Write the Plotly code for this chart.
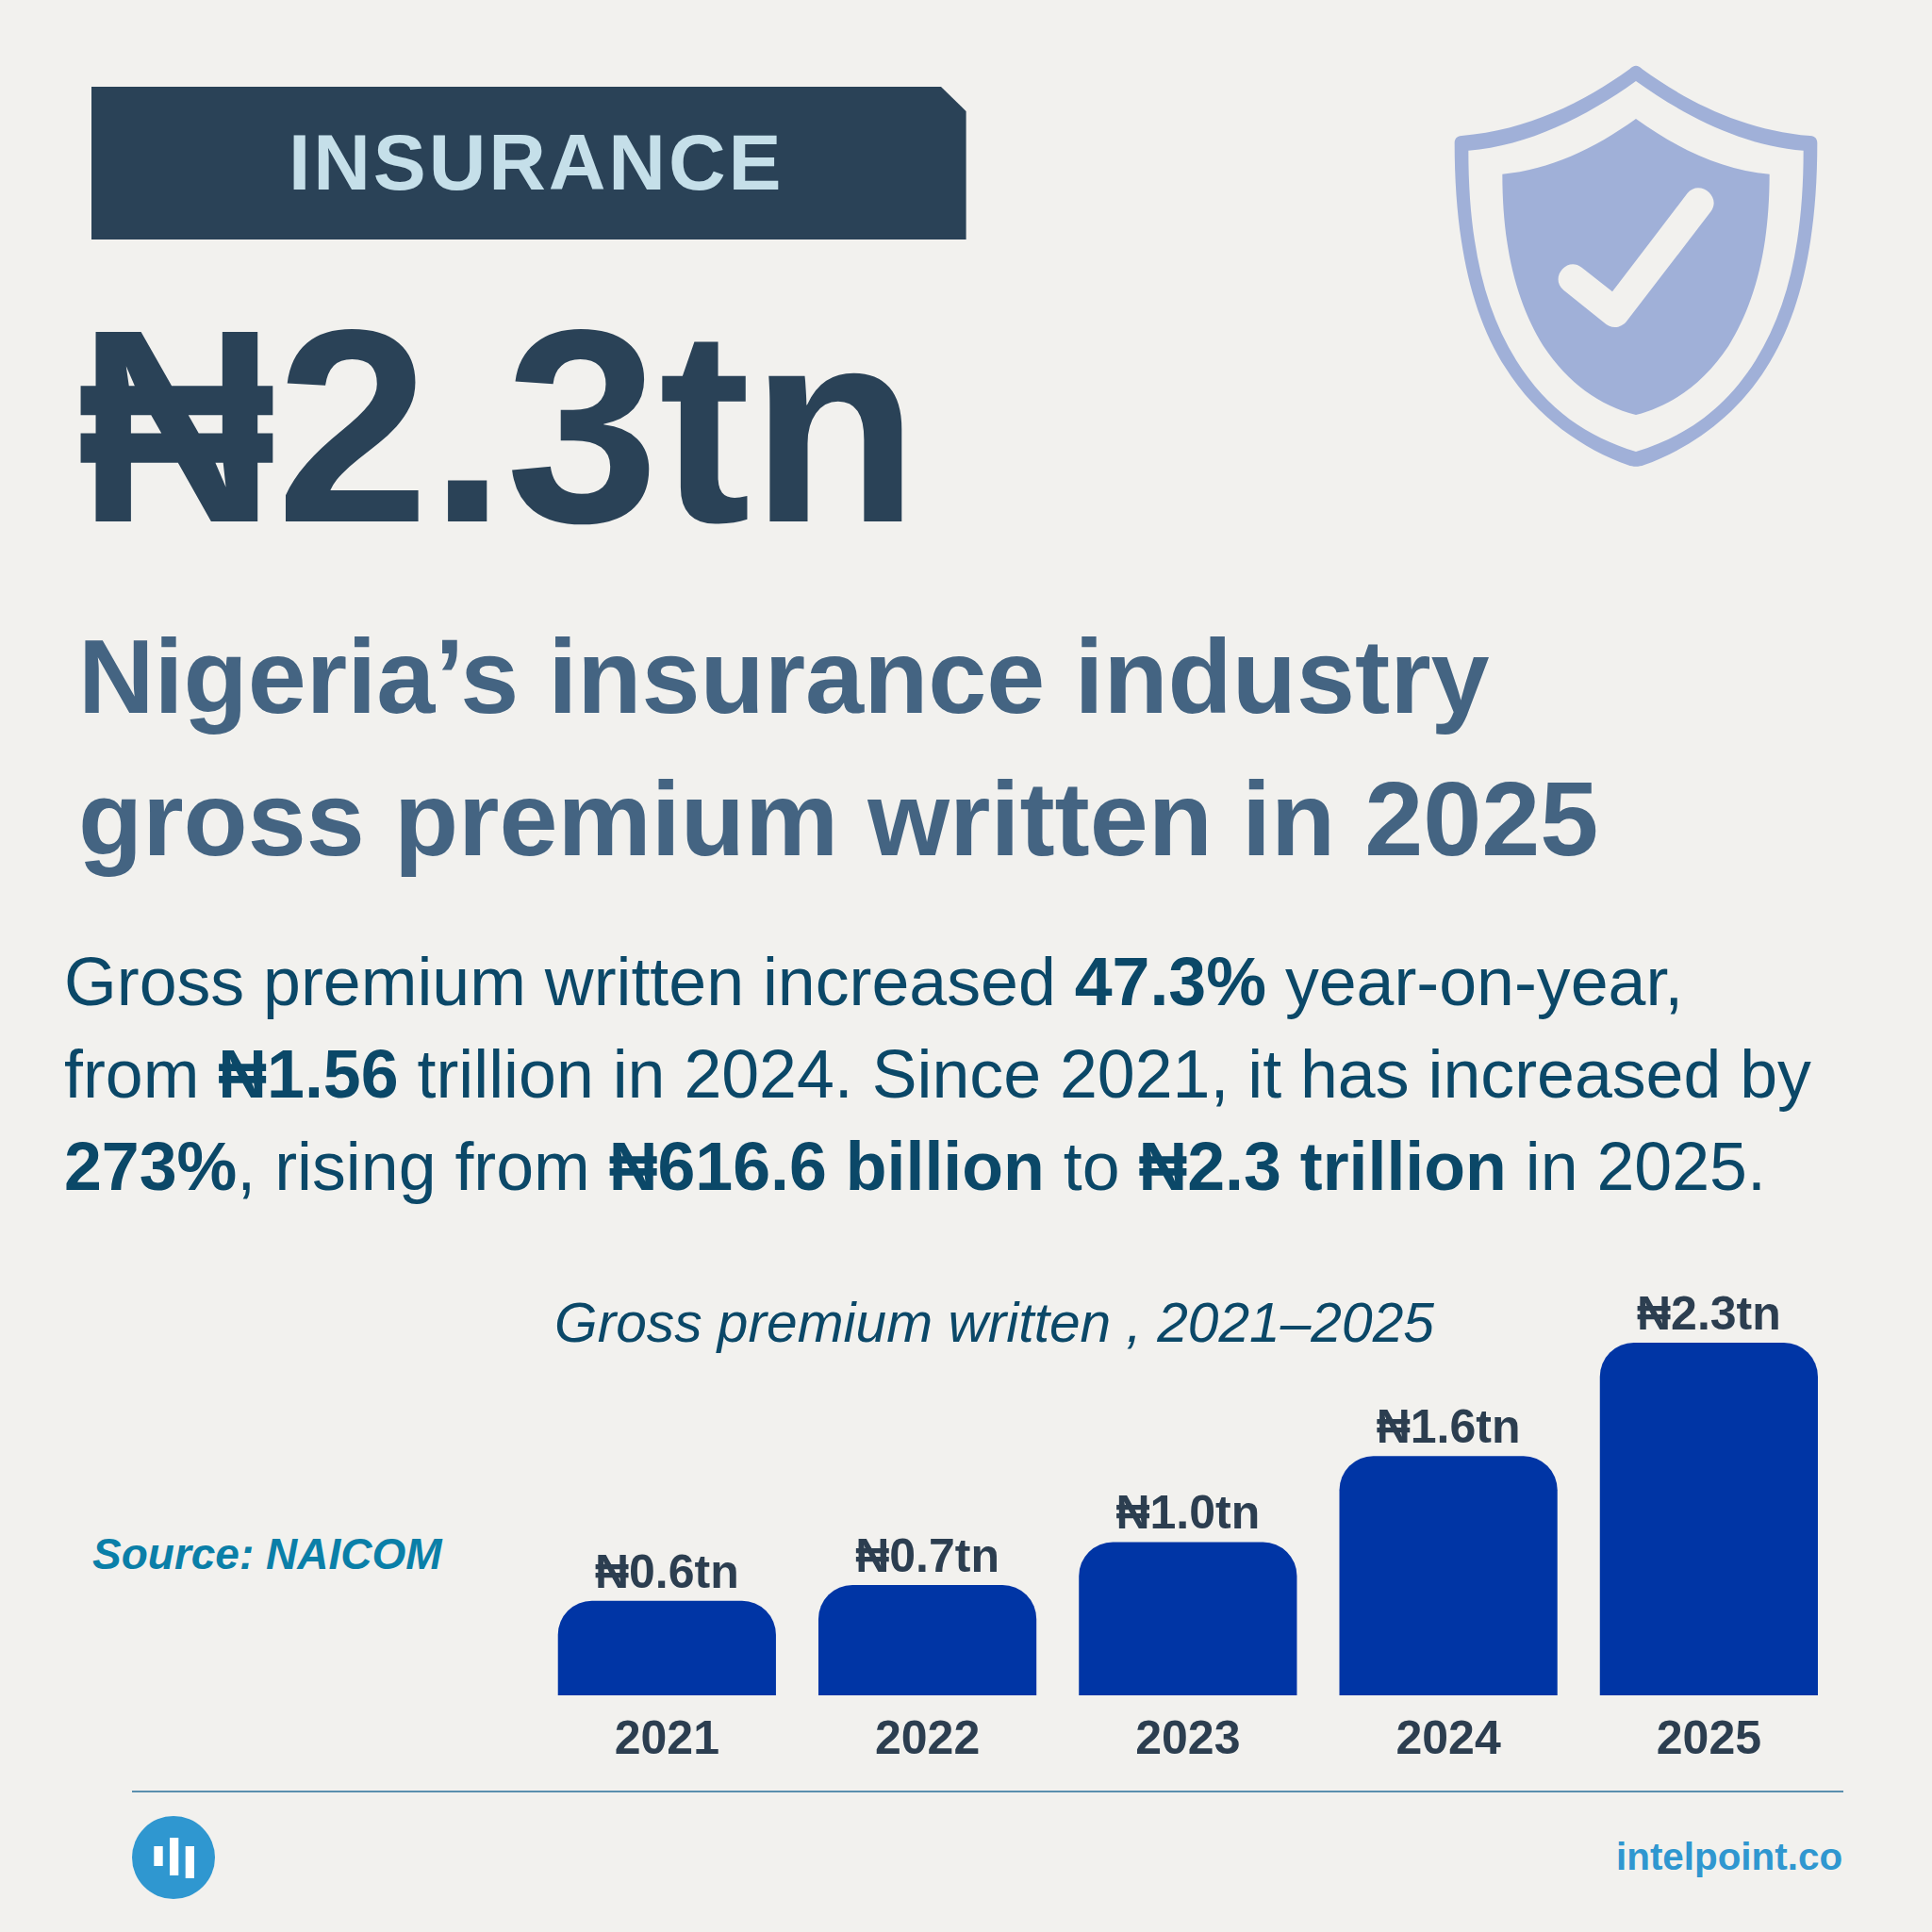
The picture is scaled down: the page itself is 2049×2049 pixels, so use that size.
import re
import plotly.graph_objects as go

FONT = "Liberation Sans"
SIZE = 2049

BG = "#f2f1ee"
NAVY = "#2a4257"
BAR_BLUE = "#0035a5"
LABEL_DARK = "#2c3e50"
BODY_BLUE = "#0b4868"
TITLE_BLUE = "#446482"
SOFT_BLUE = "#a0b0d8"
LOGO_BLUE = "#2f97d0"

years = ["2021", "2022", "2023", "2024", "2025"]
premium_tn = [0.6166, 0.72, 1.0, 1.56, 2.3]
bar_labels = ["₦0.6tn", "₦0.7tn", "₦1.0tn", "₦1.6tn", "₦2.3tn"]

title_lines = ["Nigeria’s insurance industry", "gross premium written in 2025"]
body_lines = [
    "Gross premium written increased <b>47.3%</b> year-on-year,",
    "from <b>₦1.56</b> trillion in 2024. Since 2021, it has increased by",
    "<b>273%</b>, rising from <b>₦616.6 billion</b> to <b>₦2.3 trillion</b> in 2025.",
]


def px(x):
    return x / SIZE


def py(y):
    return 1 - y / SIZE


def paper_path(s, scale=1.0, dx=0.0, dy=0.0):
    # "x,y" pairs in picture pixels -> paper coordinates
    def repl(m):
        x = float(m.group(1)) * scale + dx
        y = float(m.group(2)) * scale + dy
        return "%.5f,%.5f" % (px(x), py(y))
    return re.sub(r"(-?[\d.]+),(-?[\d.]+)", repl, s)


def label(x, base, text, size, color, bold=False, italic=False, anchor="left"):
    # base is the text baseline in picture pixels
    return dict(
        x=px(x), y=py(base - 0.334 * size), xref="paper", yref="paper",
        xanchor=anchor, yanchor="middle", align=anchor, showarrow=False,
        text=text, borderpad=0,
        font=dict(family=FONT, size=size, color=color,
                  weight=700 if bold else 400,
                  style="italic" if italic else "normal"),
    )


fig = go.Figure()

fig.add_trace(go.Bar(
    x=years, y=premium_tn,
    marker=dict(color=BAR_BLUE, cornerradius=36, line=dict(width=0)),
    text=bar_labels, textposition="outside", cliponaxis=False,
    textfont=dict(family=FONT, size=50, color=LABEL_DARK, weight=700),
    constraintext="none", hoverinfo="skip",
))

annotations = [
    label(568, 200, "INSURANCE", 84, "#c5dfe9", bold=True, anchor="center"),
    label(81, 550, "₦2.3tn", 292, NAVY, bold=True),
    label(82, 755, title_lines[0], 111.6, TITLE_BLUE, bold=True),
    label(82, 906, title_lines[1], 111.6, TITLE_BLUE, bold=True),
    label(67, 1065, body_lines[0], 71.7, BODY_BLUE),
    label(67, 1163, body_lines[1], 71.7, BODY_BLUE),
    label(67, 1261, body_lines[2], 71.7, BODY_BLUE),
    label(587, 1422, "Gross premium written , 2021–2025", 58.7, BODY_BLUE, italic=True),
    label(97, 1663, "Source: NAICOM", 46, "#0a7fa8", bold=True, italic=True),
    label(1955, 1982, "intelpoint.co", 40.4, LOGO_BLUE, bold=True, anchor="right"),
]

# shield, traced in a 3x crop whose corner sits at 1480,40
shield = (
    "M785,100 C930,205 1110,295 1320,312 C1335,313 1342,322 1342,335 "
    "C1342,640 1290,880 1180,1050 C1080,1210 930,1310 790,1360 C775,1366 755,1366 740,1360 "
    "C600,1310 450,1210 350,1050 C240,880 188,640 188,335 C188,322 195,313 210,312 "
    "C420,295 600,205 745,100 C758,86 772,86 785,100 Z "
    "M765,138 C610,250 420,345 232,359 C232,640 279,858 384,1026 "
    "C484,1186 612,1270 765,1317 C918,1270 1046,1186 1146,1026 "
    "C1251,858 1298,640 1298,359 C1110,345 920,250 765,138 Z"
)
core = (
    "M765,258 C900,355 1040,420 1190,434 C1190,680 1140,850 1060,980 "
    "C980,1100 880,1170 765,1200 C650,1170 550,1100 470,980 "
    "C390,850 340,680 340,434 C490,420 630,355 765,258 Z "
    "M592.7,731 L690,808 L928,496 C965.7,448 1039.7,505.2 1003,553.8 "
    "L737,900 C717,927 685,927 664,907 L535,803.2 "
    "C488.7,765.2 545.1,693.8 592.7,731 Z"
)


def filled(path, color):
    return dict(type="path", xref="paper", yref="paper", path=path,
                fillcolor=color, line=dict(width=0), layer="below")


def rect(x0, y0, x1, y1, color):
    return dict(type="rect", xref="paper", yref="paper",
                x0=px(x0), x1=px(x1), y0=py(y0), y1=py(y1),
                fillcolor=color, line=dict(width=0), layer="above")


shapes = [
    filled(paper_path("M97,92 L998,92 L1024.6,118 L1024.6,254 L97,254 Z"), NAVY),
    filled(paper_path(shield, 1 / 3, 1480, 40), SOFT_BLUE),
    filled(paper_path(core, 1 / 3, 1480, 40), SOFT_BLUE),
    dict(type="line", xref="paper", yref="paper", x0=px(140), x1=px(1955),
         y0=py(1900), y1=py(1900), line=dict(color="#5b8fae", width=2)),
    dict(type="circle", xref="paper", yref="paper", x0=px(140), x1=px(228),
         y0=py(1926), y1=py(2014), fillcolor=LOGO_BLUE, line=dict(width=0)),
    rect(163.3, 1958, 172.7, 1979, "white"),
    rect(180, 1949, 189.3, 1989, "white"),
    rect(196.7, 1958, 206, 1992, "white"),
]

fig.update_layout(
    width=SIZE, height=SIZE,
    margin=dict(l=0, r=0, t=0, b=0),
    paper_bgcolor=BG, plot_bgcolor="rgba(0,0,0,0)",
    showlegend=False, bargap=0.163,
    annotations=annotations, shapes=shapes,
    xaxis=dict(
        domain=[px(569.2), px(1950.5)], type="category",
        showgrid=False, showline=False, zeroline=False,
        ticks="outside", ticklen=1, tickcolor="rgba(0,0,0,0)",
        tickfont=dict(family=FONT, size=50, color=LABEL_DARK, weight=700),
    ),
    yaxis=dict(
        domain=[py(1798), py(1424)], range=[0, 2.3],
        visible=False, showgrid=False, zeroline=False,
    ),
)

letter_spacing = """
document.body.style.margin = '0';
document.querySelectorAll('.annotation-text').forEach(function (t) {
  if (t.textContent === 'INSURANCE') { t.style.letterSpacing = '2.9px'; }
});
"""

fig.write_html("out.html", post_script=letter_spacing,
               config=dict(displayModeBar=False))
